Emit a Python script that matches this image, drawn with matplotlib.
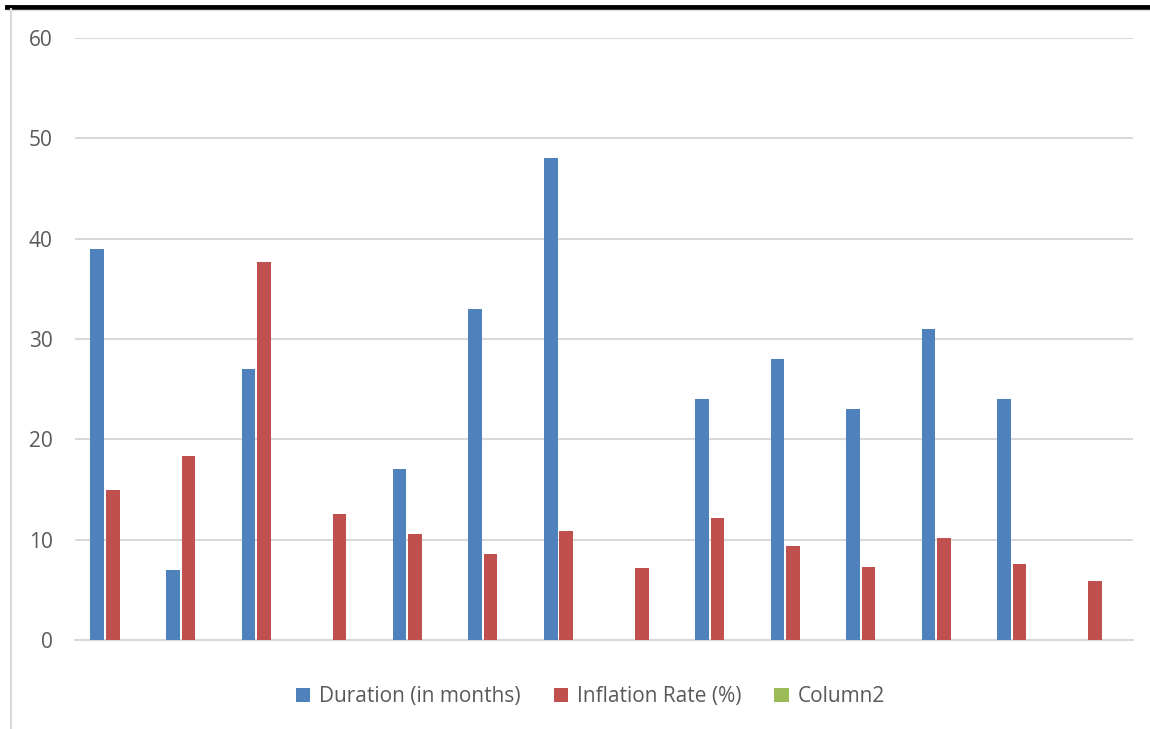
import matplotlib.pyplot as plt
import numpy as np

plt.rcParams['font.family'] = ['Open Sans', 'DejaVu Sans']

duration = [39, 7, 27, 0, 17, 33, 48, 0, 24, 28, 23, 31, 24, 0]
inflation = [15.0, 18.3, 37.7, 12.6, 10.6, 8.6, 10.9, 7.2, 12.2, 9.4, 7.3, 10.2, 7.6, 5.9]
column2 = [0] * 14
y_ticks = [0, 10, 20, 30, 40, 50, 60]

blue = '#4F81BD'
red = '#C0504D'
green = '#9BBB59'
grid = '#D9D9D9'
text = '#595959'

fig = plt.figure(figsize=(11.5, 7.29), dpi=100)
ax = fig.add_axes([75 / 1150, 1 - 640 / 729, (1133 - 75) / 1150, (640 - 38) / 729])

x = np.arange(len(duration))
w = 0.18
step = 0.205
ax.bar(x - step, duration, w, color=blue, label='Duration (in months)', zorder=3)
ax.bar(x, inflation, w, color=red, label='Inflation Rate (%)', zorder=3)
ax.bar(x + step, column2, w, color=green, label='Column2', zorder=3)

ax.set_xlim(-0.5, len(duration) - 0.5)
ax.set_ylim(0, 60)
ax.set_yticks(y_ticks)
ax.set_xticks([])
ax.yaxis.grid(True, color=grid, linewidth=1.5, zorder=0)
ax.tick_params(axis='y', length=0, pad=16, labelsize=15, labelcolor=text)
for side in ['top', 'right', 'left']:
    ax.spines[side].set_visible(False)
ax.spines['bottom'].set_color(grid)
ax.spines['bottom'].set_linewidth(1.5)

ax.legend(loc='center', bbox_to_anchor=(0.487, -0.094), ncol=3, frameon=False,
          fontsize=15, labelcolor=text, handlelength=0.7, handleheight=0.7,
          handletextpad=0.4, columnspacing=1.6)

# frame edges around the chart area
fig.add_artist(plt.Line2D([7 / 1150, 1], [1 - 7 / 729, 1 - 7 / 729], color='black', linewidth=3.5))
fig.add_artist(plt.Line2D([7 / 1150, 1], [1 - 10 / 729, 1 - 10 / 729], color='#E0E0E0', linewidth=1))
fig.add_artist(plt.Line2D([11 / 1150, 11 / 1150], [0, 1 - 9 / 729], color='#D9D9D9', linewidth=1.5))

fig.savefig('out.png', dpi=100)
